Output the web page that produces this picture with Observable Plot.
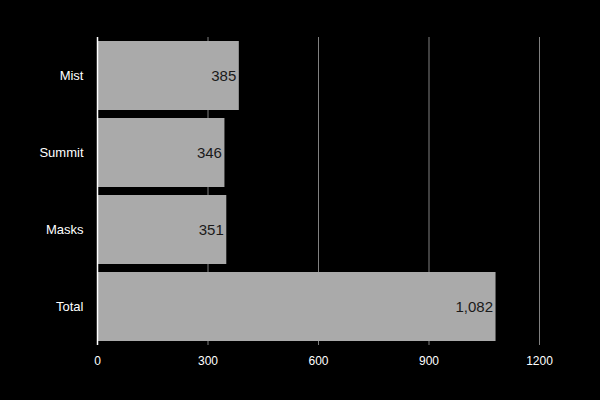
<!DOCTYPE html>
<html>
<head>
<meta charset="utf-8">
<script src="https://cdn.jsdelivr.net/npm/d3@7"></script>
<script src="https://cdn.jsdelivr.net/npm/@observablehq/plot@0.6"></script>
<style>
  html, body { margin: 0; padding: 0; background: #000; }
  #chart { width: 600px; height: 400px; }
</style>
</head>
<body>
<div id="chart"></div>
<script>
const categories = ["Mist", "Summit", "Masks", "Total"];
const values = [385, 346, 351, 1082];
const xTicks = [0, 300, 600, 900, 1200];

const data = categories.map((c, i) => ({category: c, value: values[i]}));
const fmt = d3.format(",");

const plot = Plot.plot({
  width: 600,
  height: 400,
  marginLeft: 97,
  marginRight: 61,
  marginTop: 37,
  marginBottom: 55,
  style: {background: "#000", color: "#fff", fontFamily: "'Liberation Sans', Arial, Helvetica, sans-serif", fontSize: "12px"},
  x: {domain: [0, 1200]},
  y: {domain: categories, paddingInner: 0.104, paddingOuter: 0.052},
  marks: [
    Plot.ruleX(xTicks.filter(d => d > 0), {stroke: "#808080", strokeWidth: 1, strokeOpacity: 1}),
    Plot.barX(data, {x: "value", y: "category", fill: "#aaaaaa"}),
    Plot.text(data, {x: "value", y: "category", text: d => fmt(d.value), textAnchor: "end", dx: -3, fill: "#1a1a1a", fontSize: 15}),
    Plot.ruleX([0], {stroke: "#fff", strokeWidth: 1.5}),
    Plot.axisX(xTicks, {tickSize: 0, tickPadding: 11, fill: "#fff", fontSize: 12, label: null, tickFormat: d => String(d)}),
    Plot.axisY({tickSize: 0, tickPadding: 14, fill: "#fff", fontSize: 13, label: null})
  ]
});
document.getElementById("chart").appendChild(plot);
</script>
</body>
</html>
